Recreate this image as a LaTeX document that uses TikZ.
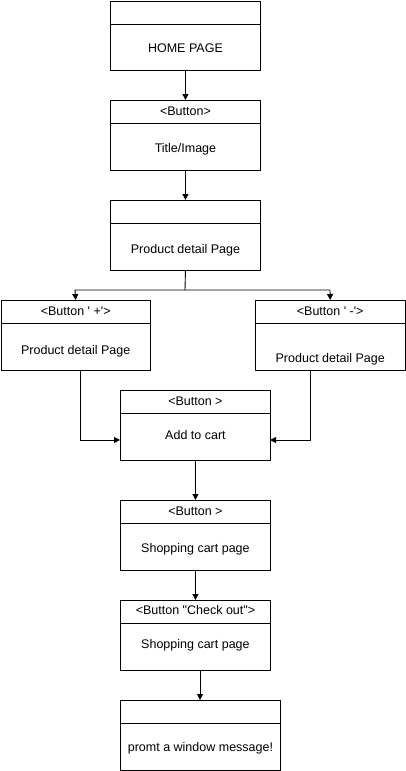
\documentclass[tikz,border=0pt]{standalone}
\usepackage{fontspec}
\setmainfont{Liberation Sans}
\newfontfamily\plainsans{Liberation Sans}
\usetikzlibrary{arrows.meta,calc}
\tikzset{
  umlbox/.style={draw=black, line width=0.9pt, fill=white, inner sep=0pt, anchor=north west},
  hdr/.style={draw=black, line width=0.9pt},
  txt/.style={font=\plainsans\fontsize{12.5}{14}\selectfont, inner sep=0pt},
  conn/.style={draw=black, line width=0.9pt, -{Triangle[length=6pt,width=6pt]}},
}
\newcommand{\ubox}[9]{% name, x, ytop, w, h, hdrtext, body, hdrtexty, bodyy
  \node[umlbox, minimum width=#4, minimum height=#5] (#1) at (#2,#3) {};
  \draw[hdr] ($(#1.north west)+(0,23)$) -- ($(#1.north east)+(0,23)$);
  \node[txt] (#1h) at ($(#1.north)+(0,#8)$) {#6};
  \node[txt] (#1b) at ($(#1.north)+(0,#9)$) {#7};
}
\begin{document}
\begin{tikzpicture}[x=1pt,y=-1pt]
\useasboundingbox (0,0) rectangle (405,771);
\ubox{b1}{110}{1}{150pt}{69pt}{}{HOME PAGE}{11}{47}
\ubox{b2}{110}{100}{150pt}{70pt}{<Button>}{Title/Image}{11}{49}
\ubox{b3}{110}{200}{150pt}{70pt}{}{Product detail Page}{11}{50}
\ubox{b4}{0.5}{300}{149.5pt}{70pt}{<Button ' +'>}{Product detail Page}{11}{51}
\ubox{b5}{255}{300}{149.5pt}{70pt}{<Button ' -'>}{Product detail Page}{11}{59}
\ubox{b6}{120}{390}{150pt}{70pt}{<Button >}{Add to cart}{11}{45}
\ubox{b7}{120}{500}{150pt}{70pt}{<Button >}{Shopping cart page}{11}{49}
\ubox{b8}{120}{600}{150pt}{70pt}{<Button "Check out">}{Shopping cart page}{10}{45}
\ubox{b9}{120}{700}{160pt}{70pt}{}{promt a window message!}{11}{48}

\coordinate (s3) at (185,290);
\coordinate (l4) at (75,290);
\coordinate (r5) at (330,290);
\coordinate (b4out) at (80,370);
\coordinate (b4turn) at (80,440);
\coordinate (b6in1) at (120,440);
\coordinate (b5out) at (310,370);
\coordinate (b5turn) at (310,440);
\coordinate (b6in2) at (270,440);
\coordinate (b8out) at (200,670);
\coordinate (b9in) at (200,700);

\draw[conn] (b1.south) -- (b2.north);
\draw[conn] (b2.south) -- (b3.north);
\draw[conn] (b3.south) -- (s3) -- (l4) -- (b4.north);
\draw[conn] (s3) -- (r5) -- (b5.north);
\draw[conn] (b4out) -- (b4turn) -- (b6in1);
\draw[conn] (b5out) -- (b5turn) -- (b6in2);
\draw[conn] (b6.south) -- (b7.north);
\draw[conn] (b7.south) -- (b8.north);
\draw[conn] (b8out) -- (b9in);
\end{tikzpicture}
\end{document}
